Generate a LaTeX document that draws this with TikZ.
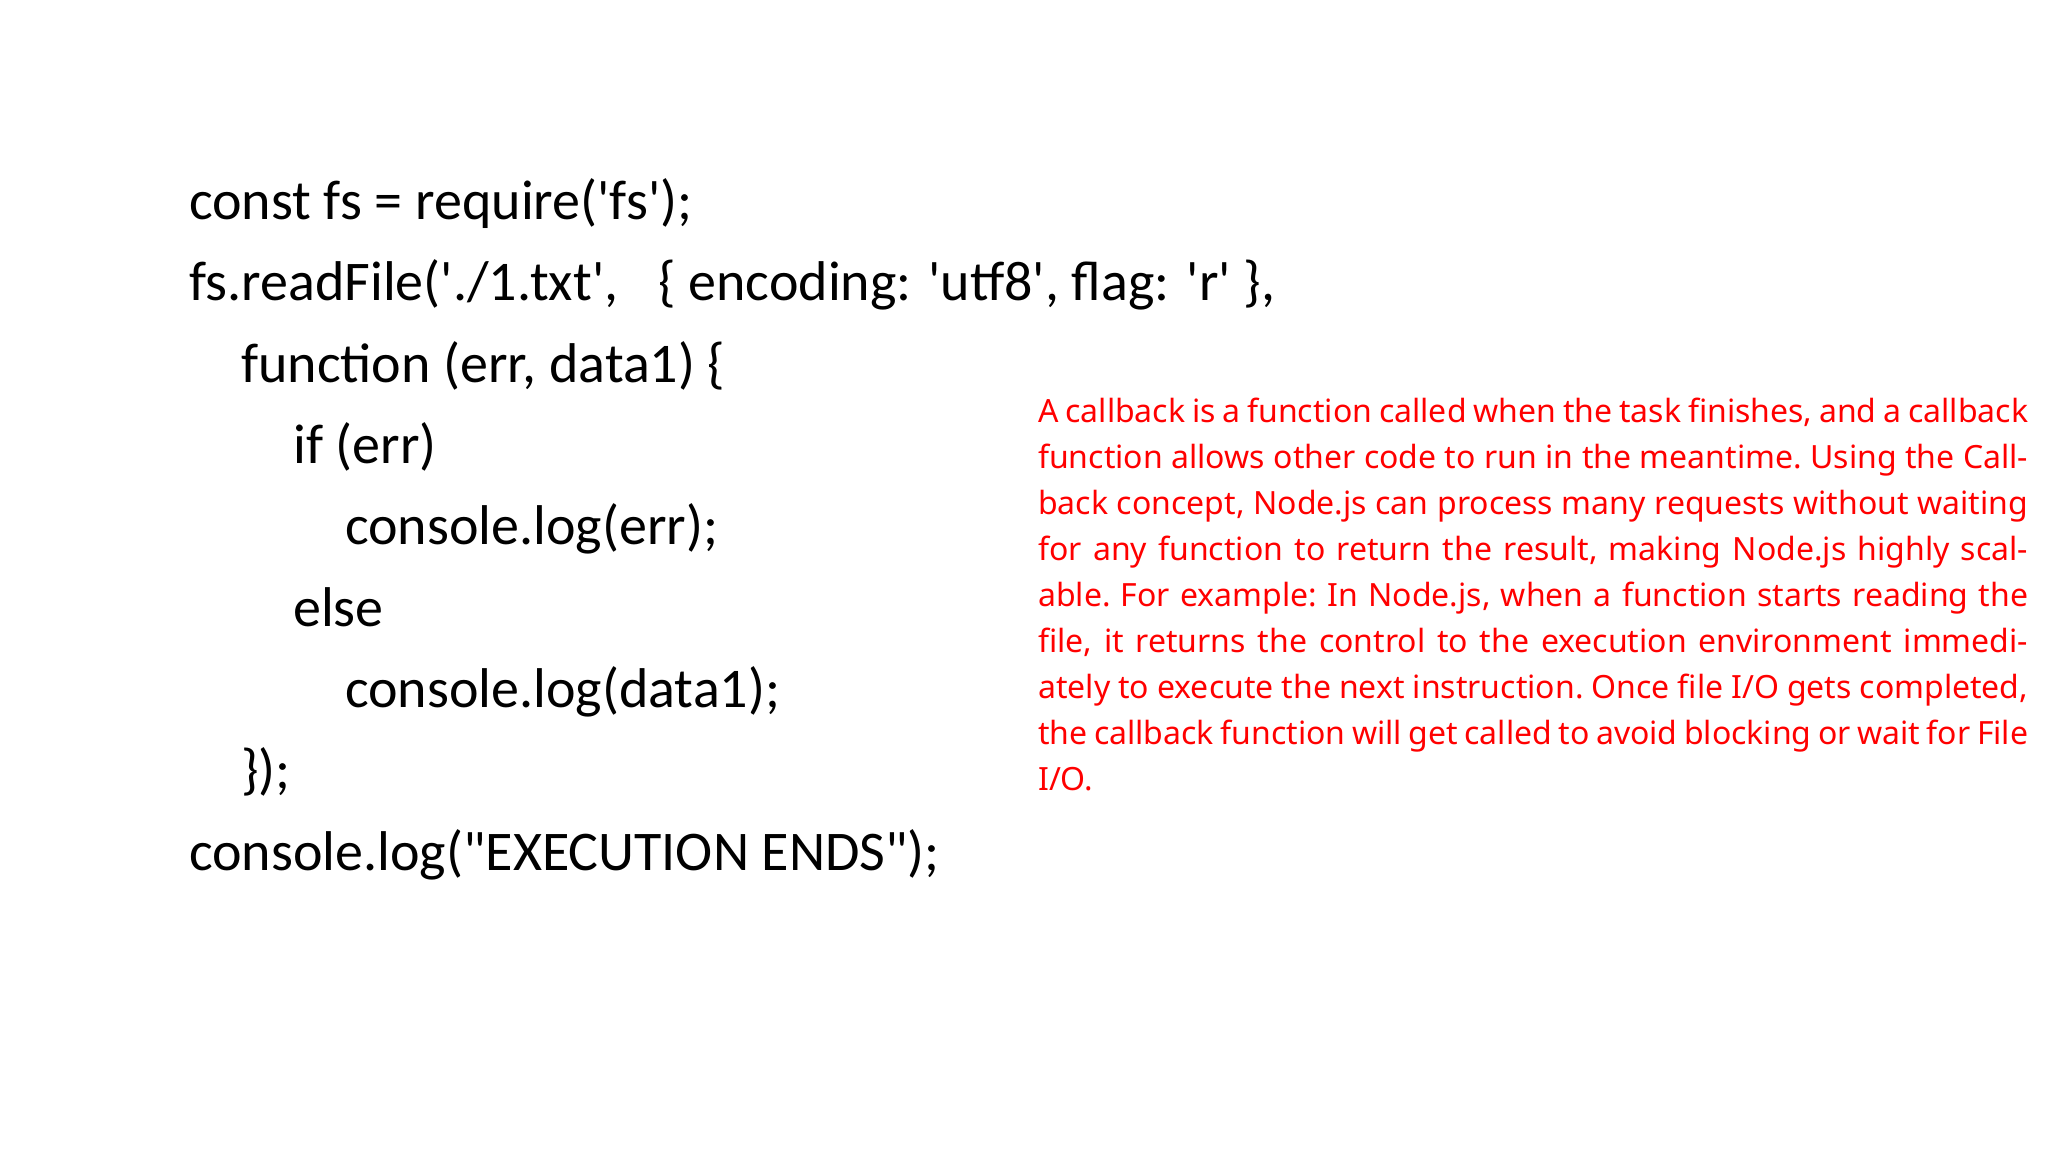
\documentclass[tikz,border=0pt]{standalone}
\usepackage{fontspec}
\setmainfont{Carlito}[Ligatures=TeXOff]
\newfontfamily\notefont{Noto Sans}
\newcommand{\sq}{\char"27\relax}
\newcommand{\dq}{\char"22\relax}
\begin{document}
\begin{tikzpicture}[x=1pt,y=-1pt,
  code/.style={anchor=base west,inner sep=0,font=\fontsize{56}{66}\selectfont},
  note/.style={anchor=north west,inner sep=0,text width=990pt,align=justify,text=red,
    font=\notefont\fontsize{32}{46}\selectfont}]
\useasboundingbox (0,0) rectangle (2048,1152);
\node[code] (l1) at (189,219) {const fs = require(\sq fs\sq);};
\node[code] (l2) at (189,300) {fs.readFile(\sq./1.txt\sq,\hspace{40pt}\{ encoding: \sq utf8\sq, flag: \sq r\sq\ \},};
\node[code] (l3) at (241,382) {function (err, data1) \{};
\node[code] (l4) at (293,463) {if (err)};
\node[code] (l5) at (345,544) {console.log(err);};
\node[code] (l6) at (293,626) {else};
\node[code] (l7) at (345,707) {console.log(data1);};
\node[code] (l8) at (241,788) {\});};
\node[code] (l9) at (189,870) {console.log(\dq EXECUTION ENDS\dq);};
\node[note] (n) at (1038,398) {\hyphenpenalty=10000\exhyphenpenalty=10000\emergencystretch=200pt\frenchspacing A callback is a function called when the task finishes, and a callback function allows other code to run in the meantime. Using the Callback concept, Node.js can process many requests without waiting for any function to return the result, making Node.js highly scalable. For example: In Node.js, when a function starts reading the file, it returns the control to the execution environment immediately to execute the next instruction. Once file I/O gets completed, the callback function will get called to avoid blocking or wait for File I/O.};
\end{tikzpicture}
\end{document}
